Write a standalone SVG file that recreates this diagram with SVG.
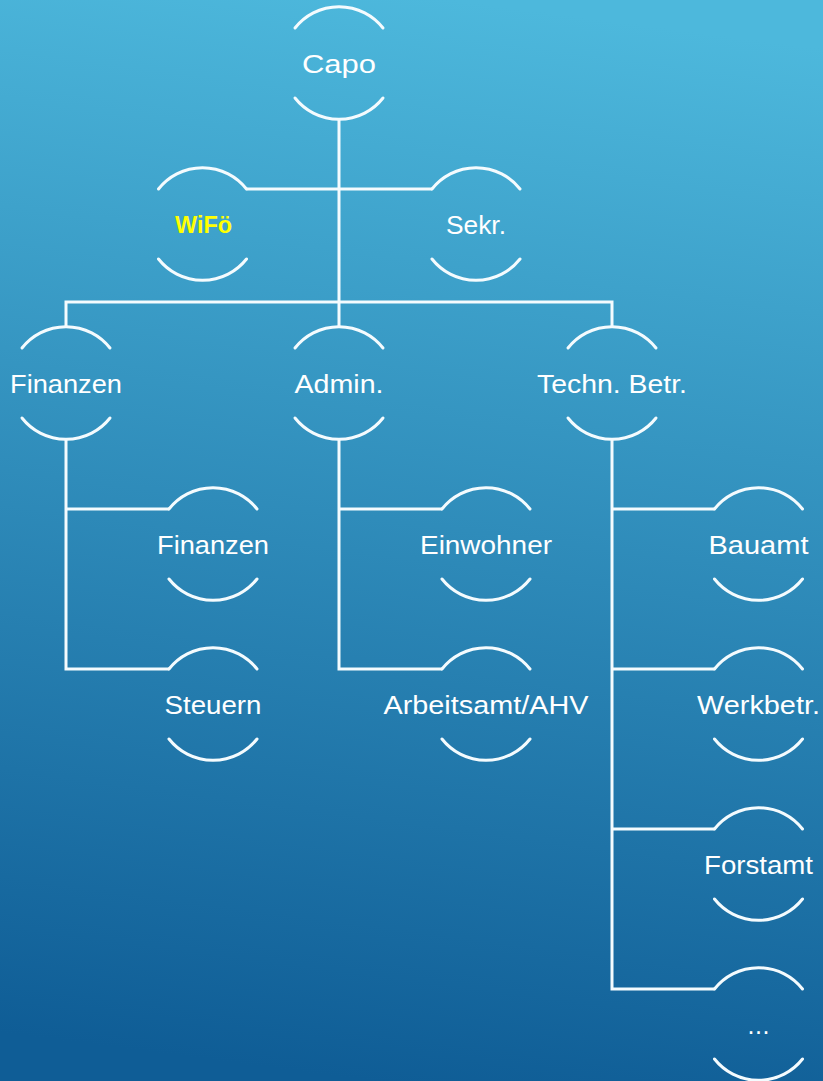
<svg xmlns="http://www.w3.org/2000/svg" width="823" height="1081" viewBox="0 0 823 1081">
<defs>
<linearGradient id="bg" x1="0.55" y1="0" x2="0.45" y2="1">
<stop offset="0" stop-color="#4db8dc"/>
<stop offset="1" stop-color="#0f5d96"/>
</linearGradient>
<style>
.arc{fill:none;stroke:#f4fbfe;stroke-width:3;stroke-linecap:round}
.con{fill:none;stroke:#f4fbfe;stroke-width:3;stroke-linejoin:miter}
.t{font-family:"Liberation Sans",Arial,sans-serif;font-size:25px;fill:#ffffff;text-anchor:middle}
.y{font-family:"Liberation Sans",Arial,sans-serif;font-size:24px;font-weight:bold;fill:#ffff00;text-anchor:middle}
</style>
</defs>
<rect x="0" y="0" width="823" height="1081" fill="url(#bg)"/>
<g id="connectors">
<path class="con" d="M339,119 V302"/>
<path class="con" d="M246.5,189 H432"/>
<path class="con" d="M66,327 V302 H612 V327"/>
<path class="con" d="M339,302 V327"/>
<path class="con" d="M66,439 V669 H169"/>
<path class="con" d="M66,509 H169"/>
<path class="con" d="M339,439 V669 H442"/>
<path class="con" d="M339,509 H442"/>
<path class="con" d="M612,439 V989 H714.5"/>
<path class="con" d="M612,509 H714.5"/>
<path class="con" d="M612,669 H714.5"/>
<path class="con" d="M612,829 H714.5"/>
</g>
<g id="capo">
<path class="arc" d="M295,28 A56,56 0 0 1 383,28 M295,98 A56,56 0 0 0 383,98"/>
<text class="t" x="339" y="73" textLength="74" lengthAdjust="spacingAndGlyphs">Capo</text>
</g>
<g id="wifo">
<path class="arc" d="M158.5,189 A56,56 0 0 1 246.5,189 M158.5,259 A56,56 0 0 0 246.5,259"/>
<text class="y" x="203.5" y="233" textLength="57" lengthAdjust="spacingAndGlyphs">WiFö</text>
</g>
<g id="sekr">
<path class="arc" d="M432,189 A56,56 0 0 1 520,189 M432,259 A56,56 0 0 0 520,259"/>
<text class="t" x="476" y="234" textLength="60" lengthAdjust="spacingAndGlyphs">Sekr.</text>
</g>
<g id="finanzen1">
<path class="arc" d="M22,348 A56,56 0 0 1 110,348 M22,418 A56,56 0 0 0 110,418"/>
<text class="t" x="66" y="393" textLength="112" lengthAdjust="spacingAndGlyphs">Finanzen</text>
</g>
<g id="admin">
<path class="arc" d="M295,348 A56,56 0 0 1 383,348 M295,418 A56,56 0 0 0 383,418"/>
<text class="t" x="339" y="393" textLength="89" lengthAdjust="spacingAndGlyphs">Admin.</text>
</g>
<g id="techn">
<path class="arc" d="M568,348 A56,56 0 0 1 656,348 M568,418 A56,56 0 0 0 656,418"/>
<text class="t" x="612" y="393" textLength="150" lengthAdjust="spacingAndGlyphs">Techn. Betr.</text>
</g>
<g id="finanzen2">
<path class="arc" d="M169,509 A56,56 0 0 1 257,509 M169,579 A56,56 0 0 0 257,579"/>
<text class="t" x="213" y="554" textLength="112" lengthAdjust="spacingAndGlyphs">Finanzen</text>
</g>
<g id="steuern">
<path class="arc" d="M169,669 A56,56 0 0 1 257,669 M169,739 A56,56 0 0 0 257,739"/>
<text class="t" x="213" y="714" textLength="97" lengthAdjust="spacingAndGlyphs">Steuern</text>
</g>
<g id="einwohner">
<path class="arc" d="M442,509 A56,56 0 0 1 530,509 M442,579 A56,56 0 0 0 530,579"/>
<text class="t" x="486" y="554" textLength="132" lengthAdjust="spacingAndGlyphs">Einwohner</text>
</g>
<g id="arbeitsamt">
<path class="arc" d="M442,669 A56,56 0 0 1 530,669 M442,739 A56,56 0 0 0 530,739"/>
<text class="t" x="486" y="714" textLength="205" lengthAdjust="spacingAndGlyphs">Arbeitsamt/AHV</text>
</g>
<g id="bauamt">
<path class="arc" d="M714.5,509 A56,56 0 0 1 802.5,509 M714.5,579 A56,56 0 0 0 802.5,579"/>
<text class="t" x="758.5" y="554" textLength="100" lengthAdjust="spacingAndGlyphs">Bauamt</text>
</g>
<g id="werkbetr">
<path class="arc" d="M714.5,669 A56,56 0 0 1 802.5,669 M714.5,739 A56,56 0 0 0 802.5,739"/>
<text class="t" x="758.5" y="714" textLength="123" lengthAdjust="spacingAndGlyphs">Werkbetr.</text>
</g>
<g id="forstamt">
<path class="arc" d="M714.5,829 A56,56 0 0 1 802.5,829 M714.5,899 A56,56 0 0 0 802.5,899"/>
<text class="t" x="758.5" y="874" textLength="109" lengthAdjust="spacingAndGlyphs">Forstamt</text>
</g>
<g id="more">
<path class="arc" d="M714.5,989 A56,56 0 0 1 802.5,989 M714.5,1059 A56,56 0 0 0 802.5,1059"/>
<text class="t" x="758.5" y="1034" textLength="22" lengthAdjust="spacing">...</text>
</g>
</svg>
